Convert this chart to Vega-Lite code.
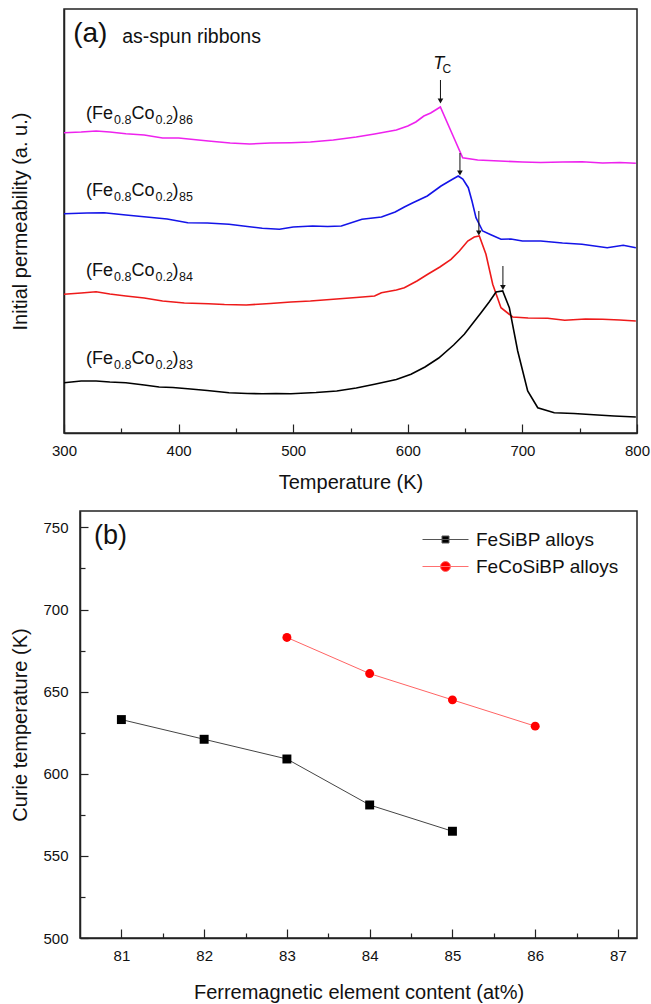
{
  "$schema": "https://vega.github.io/schema/vega-lite/v6.json",
  "padding": {"left": 9, "top": 8, "right": 0, "bottom": 4},
  "config": {
    "font": "Liberation Sans",
    "view": {"stroke": "#222222", "strokeWidth": 1.5},
    "axis": {"domainColor": "#222222", "domainWidth": 1.5, "tickColor": "#222222", "tickWidth": 1.2, "labelFont": "Liberation Sans", "titleFont": "Liberation Sans", "labelFontSize": 15, "titleFontSize": 20, "titleFontWeight": "normal", "labelColor": "#111111", "titleColor": "#111111", "grid": false, "labelFlush": false, "labelOverlap": false},
    "text": {"font": "Liberation Sans", "color": "#111111"}
  },
  "resolve": {"legend": {"shape": "independent", "fill": "independent", "color": "independent", "stroke": "independent"}},
  "datasets": {
    "curves": [
      {"alloy": "86", "T": 300, "mu": 300.3}, {"alloy": "86", "T": 315, "mu": 301}, {"alloy": "86", "T": 328, "mu": 302}, {"alloy": "86", "T": 340, "mu": 301}, {"alloy": "86", "T": 354, "mu": 299.3}, {"alloy": "86", "T": 370, "mu": 298}, {"alloy": "86", "T": 386, "mu": 295}, {"alloy": "86", "T": 400, "mu": 295}, {"alloy": "86", "T": 426, "mu": 292}, {"alloy": "86", "T": 445, "mu": 290}, {"alloy": "86", "T": 462, "mu": 289}, {"alloy": "86", "T": 480, "mu": 290}, {"alloy": "86", "T": 498, "mu": 290.3}, {"alloy": "86", "T": 515, "mu": 291}, {"alloy": "86", "T": 535, "mu": 293}, {"alloy": "86", "T": 555, "mu": 296}, {"alloy": "86", "T": 571, "mu": 299}, {"alloy": "86", "T": 590, "mu": 303}, {"alloy": "86", "T": 600, "mu": 307}, {"alloy": "86", "T": 607, "mu": 311}, {"alloy": "86", "T": 614, "mu": 317}, {"alloy": "86", "T": 620, "mu": 320}, {"alloy": "86", "T": 628.4, "mu": 326}, {"alloy": "86", "T": 638, "mu": 301}, {"alloy": "86", "T": 647.9, "mu": 275.3}, {"alloy": "86", "T": 661, "mu": 273}, {"alloy": "86", "T": 680, "mu": 272}, {"alloy": "86", "T": 700, "mu": 271}, {"alloy": "86", "T": 716, "mu": 270.5}, {"alloy": "86", "T": 735, "mu": 271}, {"alloy": "86", "T": 752, "mu": 271.3}, {"alloy": "86", "T": 770, "mu": 270}, {"alloy": "86", "T": 785, "mu": 270.5}, {"alloy": "86", "T": 799, "mu": 269.7},
      {"alloy": "85", "T": 300, "mu": 219.3}, {"alloy": "85", "T": 320, "mu": 220}, {"alloy": "85", "T": 335, "mu": 220.3}, {"alloy": "85", "T": 354, "mu": 218}, {"alloy": "85", "T": 372, "mu": 216}, {"alloy": "85", "T": 390, "mu": 214}, {"alloy": "85", "T": 408, "mu": 210.3}, {"alloy": "85", "T": 425, "mu": 210}, {"alloy": "85", "T": 444, "mu": 208.7}, {"alloy": "85", "T": 460, "mu": 206.5}, {"alloy": "85", "T": 473, "mu": 204.7}, {"alloy": "85", "T": 488, "mu": 203.7}, {"alloy": "85", "T": 500, "mu": 206}, {"alloy": "85", "T": 517, "mu": 207}, {"alloy": "85", "T": 530, "mu": 206.5}, {"alloy": "85", "T": 542, "mu": 207}, {"alloy": "85", "T": 560, "mu": 213.7}, {"alloy": "85", "T": 577, "mu": 216}, {"alloy": "85", "T": 589, "mu": 221}, {"alloy": "85", "T": 597, "mu": 226}, {"alloy": "85", "T": 604, "mu": 230}, {"alloy": "85", "T": 617, "mu": 237}, {"alloy": "85", "T": 629, "mu": 247}, {"alloy": "85", "T": 639, "mu": 253.7}, {"alloy": "85", "T": 644, "mu": 257}, {"alloy": "85", "T": 648, "mu": 254}, {"alloy": "85", "T": 652.8, "mu": 245.3}, {"alloy": "85", "T": 656, "mu": 232}, {"alloy": "85", "T": 659.5, "mu": 215.3}, {"alloy": "85", "T": 665.3, "mu": 202}, {"alloy": "85", "T": 672, "mu": 198.5}, {"alloy": "85", "T": 681.3, "mu": 193.7}, {"alloy": "85", "T": 690, "mu": 194}, {"alloy": "85", "T": 700, "mu": 192}, {"alloy": "85", "T": 716, "mu": 192}, {"alloy": "85", "T": 735, "mu": 190}, {"alloy": "85", "T": 752, "mu": 188.7}, {"alloy": "85", "T": 774, "mu": 185.3}, {"alloy": "85", "T": 788, "mu": 187.7}, {"alloy": "85", "T": 799, "mu": 185.3},
      {"alloy": "84", "T": 300, "mu": 138.7}, {"alloy": "84", "T": 315, "mu": 140}, {"alloy": "84", "T": 328, "mu": 141.3}, {"alloy": "84", "T": 340, "mu": 139}, {"alloy": "84", "T": 354, "mu": 137}, {"alloy": "84", "T": 370, "mu": 135}, {"alloy": "84", "T": 386, "mu": 132}, {"alloy": "84", "T": 405, "mu": 130}, {"alloy": "84", "T": 426, "mu": 129.3}, {"alloy": "84", "T": 440, "mu": 128.5}, {"alloy": "84", "T": 459, "mu": 128}, {"alloy": "84", "T": 480, "mu": 129.5}, {"alloy": "84", "T": 498, "mu": 131}, {"alloy": "84", "T": 515, "mu": 132}, {"alloy": "84", "T": 535, "mu": 133.7}, {"alloy": "84", "T": 555, "mu": 135.5}, {"alloy": "84", "T": 571, "mu": 137}, {"alloy": "84", "T": 577, "mu": 140.3}, {"alloy": "84", "T": 590, "mu": 143}, {"alloy": "84", "T": 597, "mu": 145.3}, {"alloy": "84", "T": 608, "mu": 152}, {"alloy": "84", "T": 617.4, "mu": 158.7}, {"alloy": "84", "T": 628, "mu": 166}, {"alloy": "84", "T": 637.7, "mu": 173.7}, {"alloy": "84", "T": 645, "mu": 182}, {"alloy": "84", "T": 652.3, "mu": 192}, {"alloy": "84", "T": 658, "mu": 196}, {"alloy": "84", "T": 662.4, "mu": 197}, {"alloy": "84", "T": 668.2, "mu": 178.7}, {"alloy": "84", "T": 674.1, "mu": 148.7}, {"alloy": "84", "T": 681.3, "mu": 125.3}, {"alloy": "84", "T": 691.5, "mu": 116}, {"alloy": "84", "T": 705, "mu": 115}, {"alloy": "84", "T": 722, "mu": 114.7}, {"alloy": "84", "T": 737, "mu": 112.7}, {"alloy": "84", "T": 755, "mu": 114}, {"alloy": "84", "T": 770, "mu": 113.7}, {"alloy": "84", "T": 785, "mu": 113}, {"alloy": "84", "T": 799, "mu": 112},
      {"alloy": "83", "T": 300, "mu": 50.3}, {"alloy": "83", "T": 315, "mu": 52}, {"alloy": "83", "T": 328, "mu": 52}, {"alloy": "83", "T": 340, "mu": 51}, {"alloy": "83", "T": 354, "mu": 50.3}, {"alloy": "83", "T": 370, "mu": 48}, {"alloy": "83", "T": 383, "mu": 46}, {"alloy": "83", "T": 395, "mu": 45.5}, {"alloy": "83", "T": 408, "mu": 44.3}, {"alloy": "83", "T": 425, "mu": 42.5}, {"alloy": "83", "T": 444, "mu": 40.3}, {"alloy": "83", "T": 460, "mu": 39.5}, {"alloy": "83", "T": 473, "mu": 39.3}, {"alloy": "83", "T": 485, "mu": 39.5}, {"alloy": "83", "T": 498, "mu": 39.3}, {"alloy": "83", "T": 520, "mu": 40.5}, {"alloy": "83", "T": 538, "mu": 42}, {"alloy": "83", "T": 555, "mu": 45}, {"alloy": "83", "T": 571, "mu": 48.7}, {"alloy": "83", "T": 590, "mu": 53.5}, {"alloy": "83", "T": 602.8, "mu": 58.7}, {"alloy": "83", "T": 615, "mu": 66}, {"alloy": "83", "T": 627, "mu": 75}, {"alloy": "83", "T": 640, "mu": 88}, {"alloy": "83", "T": 649.3, "mu": 98.7}, {"alloy": "83", "T": 663.9, "mu": 120.3}, {"alloy": "83", "T": 671, "mu": 131}, {"alloy": "83", "T": 677, "mu": 141}, {"alloy": "83", "T": 682.8, "mu": 142}, {"alloy": "83", "T": 688.6, "mu": 125.3}, {"alloy": "83", "T": 695.9, "mu": 82}, {"alloy": "83", "T": 704.6, "mu": 42}, {"alloy": "83", "T": 713.4, "mu": 25.3}, {"alloy": "83", "T": 727.8, "mu": 20.3}, {"alloy": "83", "T": 745, "mu": 19.5}, {"alloy": "83", "T": 765.7, "mu": 18}, {"alloy": "83", "T": 780, "mu": 17}, {"alloy": "83", "T": 799, "mu": 16}
    ],
    "arrows": [
      {"alloy": "86", "T": 628.5, "mu": 353, "tip": 332},
      {"alloy": "85", "T": 645.5, "mu": 280, "tip": 260},
      {"alloy": "84", "T": 662, "mu": 222, "tip": 200},
      {"alloy": "83", "T": 683, "mu": 167, "tip": 145.5}
    ],
    "labels": [
      {"n": "86", "T": 319.2, "mu": 319},
      {"n": "85", "T": 319.2, "mu": 242},
      {"n": "84", "T": 319.2, "mu": 162},
      {"n": "83", "T": 319.2, "mu": 74}
    ],
    "tc": [{"T": 627, "mu": 369}],
    "panelA": [{"T": 308.0, "mu": 399.5}],
    "curie": [
      {"series": "FeSiBP alloys", "c": 81, "Tc": 633},
      {"series": "FeSiBP alloys", "c": 82, "Tc": 621},
      {"series": "FeSiBP alloys", "c": 83, "Tc": 609},
      {"series": "FeSiBP alloys", "c": 84, "Tc": 581},
      {"series": "FeSiBP alloys", "c": 85, "Tc": 565},
      {"series": "FeCoSiBP alloys", "c": 83, "Tc": 683},
      {"series": "FeCoSiBP alloys", "c": 84, "Tc": 661},
      {"series": "FeCoSiBP alloys", "c": 85, "Tc": 645},
      {"series": "FeCoSiBP alloys", "c": 86, "Tc": 629}
    ],
    "panelB": [{"c": 80.67, "Tc": 745}]
  },
  "columns": 1,
  "spacing": 17,
  "concat": [
    {
      "width": 573,
      "height": 424,
      "encoding": {
        "x": {"field": "T", "type": "quantitative", "title": "Temperature (K)", "scale": {"domain": [300, 800], "nice": false},
          "axis": {"values": [300, 350, 400, 450, 500, 550, 600, 650, 700, 750, 800],
            "labelExpr": "datum.value % 100 === 0 ? datum.label : ''",
            "tickSize": {"condition": {"test": "datum.value % 100 === 0", "value": -9}, "value": -5},
            "labelPadding": 19, "titlePadding": 10}},
        "y": {"field": "mu", "type": "quantitative", "title": "Initial permeability (a. u.)", "scale": {"domain": [0, 424], "nice": false},
          "axis": {"labels": false, "ticks": false, "titlePadding": 34}}
      },
      "layer": [
        {
          "data": {"name": "curves"},
          "mark": {"type": "line", "strokeWidth": 1.6},
          "encoding": {
            "color": {"field": "alloy", "type": "nominal", "scale": {"domain": ["83", "84", "85", "86"], "range": ["#000000", "#ee1a1a", "#1414e8", "#ee22ee"]}, "legend": null}
          }
        },
        {
          "data": {"name": "arrows"},
          "mark": {"type": "rule", "color": "#111111", "strokeWidth": 1},
          "encoding": {"y2": {"field": "tip"}}
        },
        {
          "data": {"name": "arrows"},
          "mark": {"type": "point", "shape": "triangle-down", "filled": true, "color": "#111111", "opacity": 1, "size": 32},
          "encoding": {"y": {"field": "tip", "type": "quantitative", "title": "Initial permeability (a. u.)"}}
        },
        {
          "data": {"name": "labels"},
          "mark": {"type": "text", "text": "(Fe", "align": "left", "baseline": "middle", "fontSize": 18},
          "encoding": {}
        },
        {
          "data": {"name": "labels"},
          "mark": {"type": "text", "text": "0.8", "align": "left", "baseline": "middle", "fontSize": 12.5, "dx": 28, "dy": 6},
          "encoding": {}
        },
        {
          "data": {"name": "labels"},
          "mark": {"type": "text", "text": "Co", "align": "left", "baseline": "middle", "fontSize": 18, "dx": 45.5},
          "encoding": {}
        },
        {
          "data": {"name": "labels"},
          "mark": {"type": "text", "text": "0.2", "align": "left", "baseline": "middle", "fontSize": 12.5, "dx": 69.5, "dy": 6},
          "encoding": {}
        },
        {
          "data": {"name": "labels"},
          "mark": {"type": "text", "text": ")", "align": "left", "baseline": "middle", "fontSize": 18, "dx": 86.5},
          "encoding": {}
        },
        {
          "data": {"name": "labels"},
          "mark": {"type": "text", "align": "left", "baseline": "middle", "fontSize": 12.5, "dx": 93, "dy": 6},
          "encoding": {"text": {"field": "n"}}
        },
        {
          "data": {"name": "tc"},
          "mark": {"type": "text", "text": "T", "align": "center", "baseline": "middle", "fontSize": 18, "fontStyle": "italic"},
          "encoding": {}
        },
        {
          "data": {"name": "tc"},
          "mark": {"type": "text", "text": "C", "align": "center", "baseline": "middle", "fontSize": 12, "dx": 8, "dy": 5},
          "encoding": {}
        },
        {
          "data": {"name": "panelA"},
          "mark": {"type": "text", "text": "(a)", "align": "left", "baseline": "middle", "fontSize": 28},
          "encoding": {}
        },
        {
          "data": {"name": "panelA"},
          "mark": {"type": "text", "text": "as-spun ribbons", "align": "left", "baseline": "middle", "fontSize": 19.5, "dx": 49, "dy": 3},
          "encoding": {}
        }
      ]
    },
    {
      "bounds": "flush",
      "spacing": 0,
      "resolve": {"legend": {"shape": "independent", "fill": "independent", "color": "independent", "stroke": "independent"}},
      "hconcat": [
        {
          "width": 16,
          "height": 427,
          "view": {"stroke": null},
          "data": {"values": []},
          "mark": {"type": "point", "opacity": 0},
          "encoding": {}
        },
        {
          "width": 557,
          "height": 427,
          "resolve": {"scale": {"shape": "independent", "color": "independent", "fill": "independent", "stroke": "independent"}, "legend": {"shape": "independent", "color": "independent", "fill": "independent", "stroke": "independent"}},
          "encoding": {
            "x": {"field": "c", "type": "quantitative", "title": "Ferremagnetic element content (at%)", "scale": {"domain": [80.5, 87.23], "nice": false},
              "axis": {"values": [81, 81.5, 82, 82.5, 83, 83.5, 84, 84.5, 85, 85.5, 86, 86.5, 87],
                "labelExpr": "datum.value % 1 === 0 ? format(datum.value, 'd') : ''",
                "tickSize": {"condition": {"test": "datum.value % 1 === 0", "value": -9}, "value": -5},
                "labelPadding": 19, "titlePadding": 15}},
            "y": {"field": "Tc", "type": "quantitative", "title": "Curie temperature (K)", "scale": {"domain": [500, 760], "nice": false},
              "axis": {"values": [500, 525, 550, 575, 600, 625, 650, 675, 700, 725, 750],
                "labelExpr": "datum.value % 50 === 0 ? datum.label : ''",
                "tickSize": {"condition": {"test": "datum.value % 50 === 0", "value": -8}, "value": -5},
                "labelPadding": 20, "titlePadding": 12}}
          },
          "layer": [
            {
              "data": {"name": "curie"},
              "mark": {"type": "line", "strokeWidth": 1},
              "encoding": {
                "color": {"field": "series", "type": "nominal", "scale": {"domain": ["FeSiBP alloys", "FeCoSiBP alloys"], "range": ["#444444", "#ff6464"]}, "legend": null}
              }
            },
            {
              "data": {"name": "curie"},
              "mark": {"type": "point", "filled": true, "opacity": 1, "size": 80, "strokeWidth": 0},
              "encoding": {
                "fill": {"field": "series", "type": "nominal", "scale": {"domain": ["FeSiBP alloys", "FeCoSiBP alloys"], "range": ["#000000", "#ff0000"]}, "legend": null},
                "shape": {"field": "series", "type": "nominal", "scale": {"domain": ["FeSiBP alloys", "FeCoSiBP alloys"], "range": ["square", "circle"]}, "legend": null}
              }
            },
            {
              "data": {"name": "curie"},
              "mark": {"type": "point", "filled": true, "opacity": 0, "size": 80},
              "encoding": {
                "color": {"field": "series", "type": "nominal", "scale": {"domain": ["FeSiBP alloys", "FeCoSiBP alloys"], "range": ["#000000", "#ff0000"]},
                  "legend": {"title": null, "orient": "top-right", "offset": 18, "padding": 0, "symbolSize": 400, "labelOffset": 20, "labelFontSize": 19, "labelFont": "Liberation Sans", "labelColor": "#111111", "rowPadding": 6, "symbolOpacity": 1, "symbolStrokeWidth": 1}},
                "stroke": {"field": "series", "type": "nominal", "scale": {"domain": ["FeSiBP alloys", "FeCoSiBP alloys"], "range": ["#555555", "#ff7070"]},
                  "legend": {"title": null, "orient": "top-right", "offset": 18, "padding": 0, "symbolSize": 400, "labelOffset": 20, "labelFontSize": 19, "labelFont": "Liberation Sans", "labelColor": "#111111", "rowPadding": 6, "symbolOpacity": 1, "symbolStrokeWidth": 1}},
                "shape": {"field": "series", "type": "nominal", "scale": {"domain": ["FeSiBP alloys", "FeCoSiBP alloys"], "range": ["M-2.3,0L2.3,0M-0.35,-0.35L0.35,-0.35L0.35,0.35L-0.35,0.35Z", "M-2.3,0L2.3,0M-0.5,0A0.5,0.5 0 1,0 0.5,0A0.5,0.5 0 1,0 -0.5,0Z"]},
                  "legend": {"title": null, "orient": "top-right", "offset": 18, "padding": 0, "symbolSize": 400, "labelOffset": 20, "labelFontSize": 19, "labelFont": "Liberation Sans", "labelColor": "#111111", "rowPadding": 6, "symbolOpacity": 1, "symbolStrokeWidth": 1}}
              }
            },
            {
              "data": {"name": "panelB"},
              "mark": {"type": "text", "text": "(b)", "align": "left", "baseline": "middle", "fontSize": 27},
              "encoding": {}
            }
          ]
        }
      ]
    }
  ]
}
